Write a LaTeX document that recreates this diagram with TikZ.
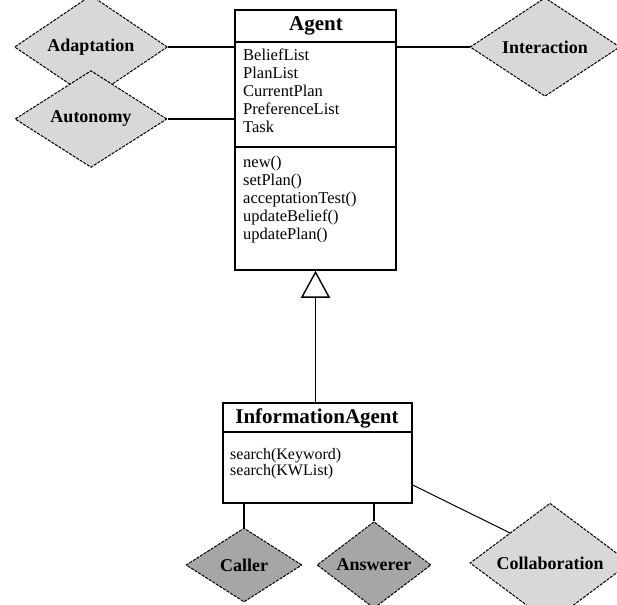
\documentclass[tikz,border=0pt]{standalone}
\usepackage{fontspec}
\setmainfont{Liberation Serif}
\usetikzlibrary{shapes.geometric,arrows.meta}
\definecolor{lightgrey}{HTML}{D8D8D8}
\definecolor{rolegrey}{HTML}{A6A6A6}
\begin{document}
\begin{tikzpicture}[x=1pt,y=-1pt,
  classbox/.style={draw=black, line width=1.5pt, fill=white, inner sep=0pt},
  classtitle/.style={font=\bfseries\fontsize{21}{24}\selectfont, inner sep=0pt},
  % the base anchor of a multi-line node sits on its last line
  members/.style={font=\fontsize{16.5}{18}\selectfont, align=left, anchor=base west, inner sep=0pt},
  divider/.style={draw=black, line width=1.5pt},
  quality/.style={diamond, draw=black, line width=1pt, dash pattern=on 3pt off 1.2pt,
    fill=lightgrey, inner sep=0pt, font=\bfseries\fontsize{18}{20}\selectfont},
  role/.style={quality, fill=rolegrey},
  link/.style={draw=black, line width=1.4pt},
  thinlink/.style={draw=black, line width=1pt}]
\useasboundingbox (0,0) rectangle (617,604);
\clip (0,0) rectangle (617,604);

% Agent class
\node[classbox, minimum width=161pt, minimum height=260pt] (agent) at (315.5,140) {};
\node[classtitle] (agentname) at (316,26) {Agent};
\coordinate (agentsep1) at (0,42);
\coordinate (agentsep2) at (0,147);
\draw[divider] (agent.west |- agentsep1) -- (agent.east |- agentsep1);
\draw[divider] (agent.west |- agentsep2) -- (agent.east |- agentsep2);
\node[members] (agentattr) at (243,133)
  {BeliefList\\PlanList\\CurrentPlan\\PreferenceList\\Task};
\node[members] (agentops) at (243,239)
  {new()\\setPlan()\\acceptationTest()\\updateBelief()\\updatePlan()};

% InformationAgent class
\node[classbox, minimum width=189pt, minimum height=100pt] (ia) at (317.5,453) {};
\node[classtitle] (ianame) at (317,418) {InformationAgent};
\coordinate (iasep) at (0,432);
\draw[divider] (ia.west |- iasep) -- (ia.east |- iasep);
\node[members, font=\fontsize{16}{16}\selectfont] (iaops) at (230,475)
  {search(Keyword)\\search(KWList)};

% Generalisation arrow
\draw[link, -{Triangle[open, length=27pt, width=29pt, line width=1.4pt]}]
  (agent.south |- ia.north) -- (agent.south);

% Qualities attached to Agent
\node[quality, minimum width=153pt, minimum height=74pt] (adapt) at (91,47) {Adaptation};
\node[quality, minimum width=152pt, minimum height=73pt] (auton) at (91,119) {Autonomy};
\node[quality, minimum width=150pt, minimum height=75pt] (inter) at (545,47) {Interaction};
\draw[link] (adapt.east) -- (adapt.east -| agent.west);
\draw[link] (auton.east) -- (auton.east -| agent.west);
\draw[link] (agent.east |- inter.west) -- (inter.west);

% Roles and collaboration of InformationAgent
\node[role, minimum width=116pt, minimum height=74pt] (caller) at (244,565) {Caller};
\node[role, minimum width=114pt, minimum height=74pt] (answerer) at (374,565) {Answerer};
\node[quality, minimum width=160pt, minimum height=73pt] (collab) at (550,563) {Collaboration};
\draw[link] (ia.south -| caller.north) -- (caller.north);
\draw[link] (ia.south -| answerer.north) -- (answerer.north);
\coordinate (collabstart) at (0,485);
\draw[thinlink] (ia.east |- collabstart) -- (collab.north west);
\end{tikzpicture}
\end{document}
